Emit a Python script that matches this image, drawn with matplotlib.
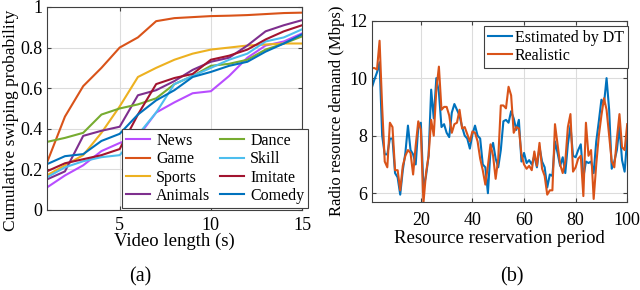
import matplotlib

matplotlib.use("Agg")
import matplotlib.pyplot as plt
import numpy as np

plt.rcParams["font.family"] = ["Liberation Serif", "DejaVu Serif"]
plt.rcParams["mathtext.fontset"] = "stix"

# (a) cumulative swiping probability vs video length
video_len = np.arange(1, 16)
categories = ["News", "Game", "Sports", "Animals", "Dance", "Skill", "Imitate", "Comedy"]
news = [0.11, 0.17, 0.22, 0.29, 0.33, 0.36, 0.48, 0.53, 0.575, 0.585, 0.66, 0.75, 0.81, 0.83, 0.87]
game = [0.23, 0.46, 0.61, 0.70, 0.80, 0.85, 0.93, 0.945, 0.95, 0.955, 0.957, 0.96, 0.965, 0.97, 0.972]
sports = [0.17, 0.22, 0.27, 0.38, 0.51, 0.655, 0.70, 0.74, 0.77, 0.79, 0.80, 0.81, 0.815, 0.82, 0.82]
animals = [0.15, 0.19, 0.365, 0.39, 0.41, 0.565, 0.59, 0.635, 0.69, 0.73, 0.75, 0.81, 0.88, 0.91, 0.935]
dance = [0.335, 0.355, 0.38, 0.47, 0.50, 0.52, 0.55, 0.62, 0.66, 0.71, 0.72, 0.74, 0.79, 0.82, 0.855]
skill = [0.16, 0.21, 0.24, 0.26, 0.27, 0.37, 0.48, 0.62, 0.66, 0.70, 0.74, 0.77, 0.83, 0.85, 0.89]
imitate = [0.19, 0.23, 0.25, 0.27, 0.30, 0.47, 0.62, 0.65, 0.67, 0.74, 0.76, 0.79, 0.84, 0.88, 0.91]
comedy = [0.225, 0.265, 0.275, 0.34, 0.375, 0.47, 0.54, 0.59, 0.655, 0.68, 0.71, 0.73, 0.78, 0.82, 0.865]
series_a = [news, game, sports, animals, dance, skill, imitate, comedy]
colors_a = ["#B84DFF", "#D95319", "#EDB120", "#7E2F8E", "#77AC30", "#4DBEEE", "#A2142F", "#0072BD"]

# (b) radio resource demand, estimated vs realistic
period = np.arange(1, 101)
estimated = [
    9.67, 9.95, 10.2, 10.55, 8.0, 7.35, 7.35, 7.9, 7.9, 6.7,
    6.55, 5.95, 6.8, 7.4, 8.35, 7.5, 7.35, 7.0, 8.3, 8.45,
    6.2, 6.6, 7.3, 9.6, 8.6, 10.0, 9.5, 8.3, 8.4, 8.1,
    7.95, 8.8, 9.1, 8.9, 8.7, 8.3, 8.0, 7.9, 7.55, 8.05,
    8.35, 8.0, 7.9, 7.0, 6.9, 6.0, 7.5, 7.75, 7.2, 6.9,
    7.5, 8.5, 8.55, 8.45, 8.85, 8.6, 8.2, 8.55, 7.1, 7.4,
    7.05, 7.15, 7.0, 7.3, 6.9, 7.6, 7.1, 6.9, 6.2, 6.65,
    6.6, 7.8, 7.4, 6.95, 7.25, 6.7, 7.7, 8.35, 7.3, 7.25,
    7.5, 7.7, 6.55, 7.1, 7.05, 7.1, 6.7, 7.8, 8.5, 9.25,
    9.1, 10.0, 8.9, 6.85, 7.1, 7.5, 8.3, 7.15, 6.75, 7.9,
]
realistic = [
    10.35, 10.35, 10.3, 11.3, 9.0, 7.1, 6.9, 8.45, 8.3, 6.8,
    6.8, 6.1, 6.95, 7.3, 7.5, 7.4, 6.65, 7.65, 8.5, 8.2,
    5.65, 6.7, 7.3, 8.55, 8.0, 9.6, 10.4, 8.9, 9.0, 9.0,
    8.7, 8.1, 8.4, 8.45, 8.9, 8.25, 8.3, 8.05, 7.8, 8.15,
    8.1, 7.8, 7.2, 6.8, 6.3, 6.95, 7.7, 7.3, 6.5, 7.2,
    9.05, 9.05, 8.95, 9.7, 9.4, 8.1, 8.3, 8.25, 7.35, 7.0,
    6.85, 6.95, 6.8, 7.45, 6.95, 7.75, 6.85, 6.6, 5.95, 6.1,
    6.1, 8.4, 7.7, 7.0, 6.7, 7.1, 8.3, 8.75, 6.75, 6.9,
    7.2, 7.3, 5.9, 8.45, 7.3, 7.5, 5.8, 7.0, 8.0, 8.7,
    9.3, 8.9, 8.0, 7.1, 6.9, 7.9, 8.75, 7.6, 7.5, 8.4,
]


def style_axes(ax):
    ax.grid(True, color="#dcdcdc", linewidth=0.8)
    ax.set_axisbelow(True)
    ax.tick_params(direction="in", top=True, right=True, labelsize=13,
                   length=3, color="#404040")
    ax.tick_params(axis="x", pad=7)
    ax.tick_params(axis="y", pad=3)
    for sp in ax.spines.values():
        sp.set_color("#404040")
        sp.set_linewidth(0.8)


fig = plt.figure(figsize=(6.4, 2.9), dpi=100)

ax1 = fig.add_axes([0.073, 0.276, 0.399, 0.700])
for name, vals, c in zip(categories, series_a, colors_a):
    ax1.plot(video_len, vals, color=c, lw=1.5, label=name)
ax1.set_xlim(1, 15)
ax1.set_ylim(0, 1)
ax1.set_xticks([5, 10, 15])
ax1.set_yticks([0, 0.2, 0.4, 0.6, 0.8, 1])
ax1.set_yticklabels(["0", "0.2", "0.4", "0.6", "0.8", "1"])
style_axes(ax1)
ax1.tick_params(axis="x", pad=5)
ax1.set_xlabel("Video length (s)", fontsize=13.5, labelpad=-1)
ax1.set_ylabel("Cumulative swiping probability", fontsize=12.5, labelpad=1)
ax1.yaxis.label.set_y(0.44)
leg1 = ax1.legend(ncol=2, loc="lower right", bbox_to_anchor=(1.025, 0.01),
                  fontsize=11.5, handlelength=1.5, handletextpad=0.4,
                  columnspacing=0.6, labelspacing=0.15, borderpad=0.25,
                  fancybox=False, edgecolor="#404040", framealpha=1,
                  borderaxespad=0)
leg1.get_frame().set_linewidth(0.8)

ax2 = fig.add_axes([0.581, 0.304, 0.399, 0.625])
ax2.plot(period, estimated, color="#0072BD", lw=1.5, label="Estimated by DT")
ax2.plot(period, realistic, color="#D95319", lw=1.5, label="Realistic")
ax2.set_xlim(1, 100)
ax2.set_ylim(5.7, 12)
ax2.set_xticks([20, 40, 60, 80, 100])
ax2.set_yticks([6, 8, 10, 12])
style_axes(ax2)
ax2.set_xlabel("Resource reservation period", fontsize=13.5, labelpad=1)
ax2.set_ylabel("Radio resource demand (Mbps)", fontsize=12, labelpad=3)
leg2 = ax2.legend(loc="upper right", bbox_to_anchor=(1.003, 0.97),
                  fontsize=11.5, handlelength=1.5, handletextpad=0.2,
                  labelspacing=0.1, borderpad=0.25, fancybox=False,
                  edgecolor="#404040", framealpha=1, borderaxespad=0)
leg2.get_frame().set_linewidth(0.8)

fig.text(140 / 640, 1 - 277 / 290, "(a)", fontsize=14.5, ha="center", va="center")
fig.text(512 / 640, 1 - 277 / 290, "(b)", fontsize=14.5, ha="center", va="center")

fig.savefig("out.png", dpi=100)
plt.close(fig)
